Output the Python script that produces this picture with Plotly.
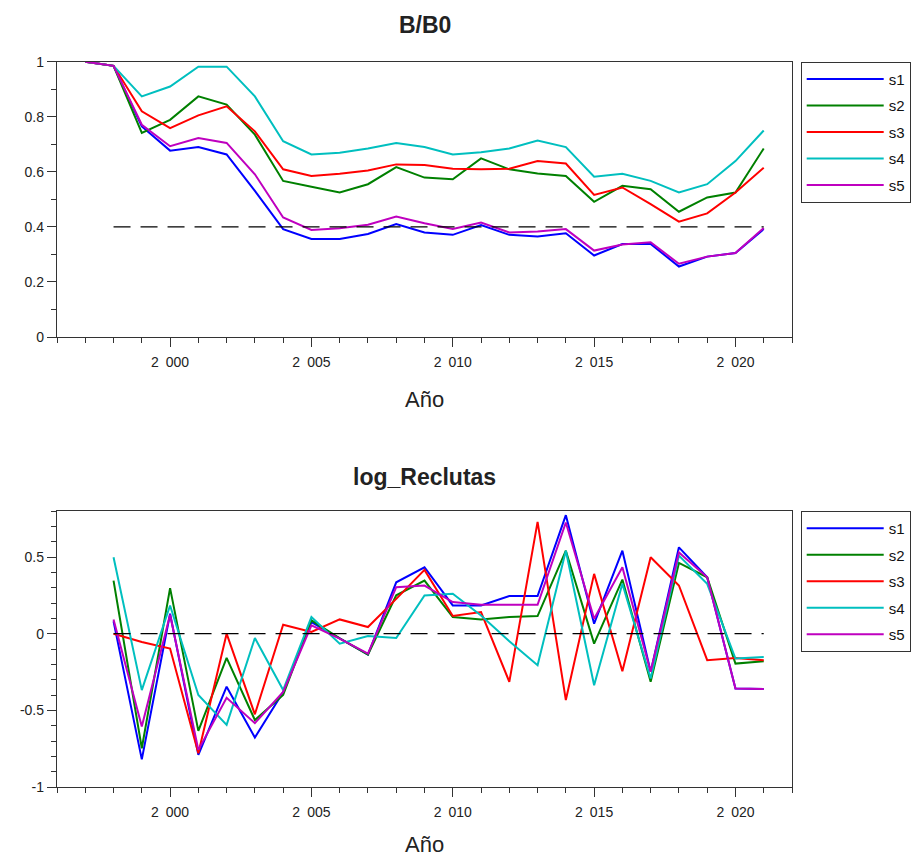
import plotly.graph_objects as go

# ---------------- data ----------------
years_b = list(range(1997, 2022))
s1_b = [1.0, 0.985, 0.765, 0.677, 0.69, 0.663, 0.531, 0.392, 0.356, 0.356, 0.374, 0.41, 0.38,
        0.371, 0.407, 0.371, 0.365, 0.377, 0.296, 0.338, 0.338, 0.256, 0.292, 0.305, 0.392]
s2_b = [1.0, 0.985, 0.741, 0.789, 0.874, 0.844, 0.735, 0.567, 0.546, 0.525, 0.555, 0.617, 0.579,
        0.573, 0.649, 0.609, 0.594, 0.585, 0.491, 0.549, 0.537, 0.455, 0.507, 0.525, 0.685]
s3_b = [1.0, 0.985, 0.82, 0.759, 0.805, 0.838, 0.747, 0.609, 0.585, 0.593, 0.605, 0.627, 0.625,
        0.611, 0.609, 0.611, 0.639, 0.63, 0.516, 0.543, 0.483, 0.419, 0.449, 0.525, 0.615]
s4_b = [1.0, 0.985, 0.874, 0.91, 0.982, 0.982, 0.874, 0.711, 0.663, 0.669, 0.685, 0.705, 0.69,
        0.663, 0.671, 0.685, 0.714, 0.69, 0.582, 0.593, 0.567, 0.525, 0.555, 0.639, 0.75]
s5_b = [1.0, 0.985, 0.771, 0.693, 0.723, 0.705, 0.591, 0.434, 0.389, 0.395, 0.408, 0.438, 0.413,
        0.392, 0.416, 0.38, 0.383, 0.392, 0.314, 0.336, 0.344, 0.266, 0.292, 0.305, 0.396]

years_r = list(range(1998, 2022))
s1_r = [0.08, -0.82, 0.13, -0.79, -0.346, -0.677, -0.38, 0.076, -0.03, -0.136, 0.335, 0.433,
        0.184, 0.184, 0.245, 0.245, 0.773, 0.065, 0.541, -0.249, 0.563, 0.368, -0.357, -0.361]
s2_r = [0.346, -0.747, 0.297, -0.634, -0.158, -0.563, -0.4, 0.087, -0.03, -0.136, 0.25, 0.346,
        0.108, 0.093, 0.108, 0.115, 0.541, -0.065, 0.353, -0.314, 0.461, 0.368, -0.195, -0.18]
s3_r = [0.0, -0.054, -0.097, -0.78, 0.0, -0.526, 0.058, 0.011, 0.093, 0.043, 0.227, 0.416,
        0.115, 0.141, -0.314, 0.729, -0.433, 0.39, -0.245, 0.498, 0.314, -0.173, -0.158, -0.173]
s4_r = [0.498, -0.368, 0.184, -0.4, -0.595, -0.028, -0.368, 0.108, -0.065, -0.015, -0.028, 0.249,
        0.26, 0.119, -0.05, -0.206, 0.541, -0.336, 0.325, -0.292, 0.509, 0.325, -0.162, -0.152]
s5_r = [0.093, -0.606, 0.123, -0.758, -0.418, -0.584, -0.38, 0.054, -0.032, -0.13, 0.303, 0.314,
        0.206, 0.188, 0.188, 0.188, 0.725, 0.097, 0.433, -0.249, 0.53, 0.368, -0.357, -0.361]

series_names = ["s1", "s2", "s3", "s4", "s5"]
ref_years = [1998, 2021]
ref_b = [0.4, 0.4]
ref_r = [0.0, 0.0]

x_tickvals = [2000, 2005, 2010, 2015, 2020]
x_ticktext = ["2\u2002000", "2\u2002005", "2\u2002010", "2\u2002015", "2\u2002020"]
yb_tickvals = [0, 0.2, 0.4, 0.6, 0.8, 1]
yb_ticktext = ["0", "0.2", "0.4", "0.6", "0.8", "1"]
yr_tickvals = [-1, -0.5, 0, 0.5]
yr_ticktext = ["-1", "-0.5", "0", "0.5"]

# ---------------- style / layout ----------------
colors = ["#0000FF", "#008000", "#FF0000", "#00BFBF", "#BF00BF"]
FONT = "Liberation Sans, Arial, sans-serif"
OFF = 8                      # default page body margin
W, H = 919 - 2 * OFF, 865 - 2 * OFF


def fx(px):  # window pixel -> paper x
    return (px - OFF) / W


def fy(py):  # window pixel -> paper y
    return 1 - (py - OFF) / H


px_l, px_r = 57, 792
top_t, top_b = 61.7, 337
bot_t, bot_b = 511, 787

fig = go.Figure()

for name, ys, c in zip(series_names, [s1_b, s2_b, s3_b, s4_b, s5_b], colors):
    fig.add_trace(go.Scatter(x=years_b, y=ys, mode="lines", name=name,
                             line=dict(color=c, width=2), xaxis="x", yaxis="y",
                             legend="legend", legendgroup="b" + name))
fig.add_trace(go.Scatter(x=ref_years, y=ref_b, mode="lines", showlegend=False,
                         line=dict(color="black", width=1.3, dash="17px,10px"),
                         xaxis="x", yaxis="y", hoverinfo="skip"))

for name, ys, c in zip(series_names, [s1_r, s2_r, s3_r, s4_r, s5_r], colors):
    fig.add_trace(go.Scatter(x=years_r, y=ys, mode="lines", name=name,
                             line=dict(color=c, width=2), xaxis="x2", yaxis="y2",
                             legend="legend2", legendgroup="r" + name))
fig.add_trace(go.Scatter(x=ref_years, y=ref_r, mode="lines", showlegend=False,
                         line=dict(color="black", width=1.3, dash="17px,10px"),
                         xaxis="x2", yaxis="y2", hoverinfo="skip"))

axis_common = dict(showline=True, linecolor="#333", linewidth=1.3, mirror=True,
                   showgrid=False, zeroline=False, ticks="outside", ticklen=9,
                   tickwidth=1.2, tickcolor="#333", automargin=False,
                   tickfont=dict(family=FONT, size=14, color="#222"))
xminor = dict(ticks="outside", ticklen=5, dtick=1, tick0=1996, tickcolor="#333", tickwidth=1.2)
yminor = dict(ticks="outside", ticklen=5, dtick=0.1, tick0=0, tickcolor="#333", tickwidth=1.2)

xdom = [fx(px_l), fx(px_r)]
legend_common = dict(xanchor="left", yanchor="top", bordercolor="#333", borderwidth=1,
                     bgcolor="white", font=dict(family=FONT, size=15, color="#111"),
                     itemwidth=77, traceorder="grouped", tracegroupgap=4)
fig.update_layout(
    width=W, height=H,
    margin=dict(l=0, r=0, t=0, b=0, pad=0, autoexpand=False),
    paper_bgcolor="white", plot_bgcolor="white",
    font=dict(family=FONT, color="#222"),
    xaxis=dict(domain=xdom, anchor="y", range=[1996, 2022], tickvals=x_tickvals,
               ticktext=x_ticktext, ticklabelstandoff=3, minor=xminor, **axis_common),
    yaxis=dict(domain=[fy(top_b), fy(top_t)], anchor="x", range=[0, 1],
               tickvals=yb_tickvals, ticktext=yb_ticktext, minor=yminor, **axis_common),
    xaxis2=dict(domain=xdom, anchor="y2", range=[1996, 2022], tickvals=x_tickvals,
                ticktext=x_ticktext, ticklabelstandoff=3, minor=xminor, **axis_common),
    yaxis2=dict(domain=[fy(bot_b), fy(bot_t)], anchor="x2", range=[-1, 0.8],
                tickvals=yr_tickvals, ticktext=yr_ticktext, minor=yminor, **axis_common),
    legend=dict(x=fx(800.7), y=fy(top_t), **legend_common),
    legend2=dict(x=fx(800.7), y=fy(bot_t), **legend_common),
    showlegend=True,
)

xc = fx((px_l + px_r) / 2)
annots = [
    dict(text="<b>B/B0</b>", y=fy(25), size=23),
    dict(text="<b>log_Reclutas</b>", y=fy(477), size=23),
    dict(text="Año", y=fy(400), size=22),
    dict(text="Año", y=fy(844), size=22),
]
for a in annots:
    fig.add_annotation(text=a["text"], x=xc, y=a["y"], xref="paper", yref="paper",
                       xanchor="center", yanchor="middle", showarrow=False,
                       font=dict(family=FONT, size=a["size"], color="#222"))

fig.write_html("out.html")
